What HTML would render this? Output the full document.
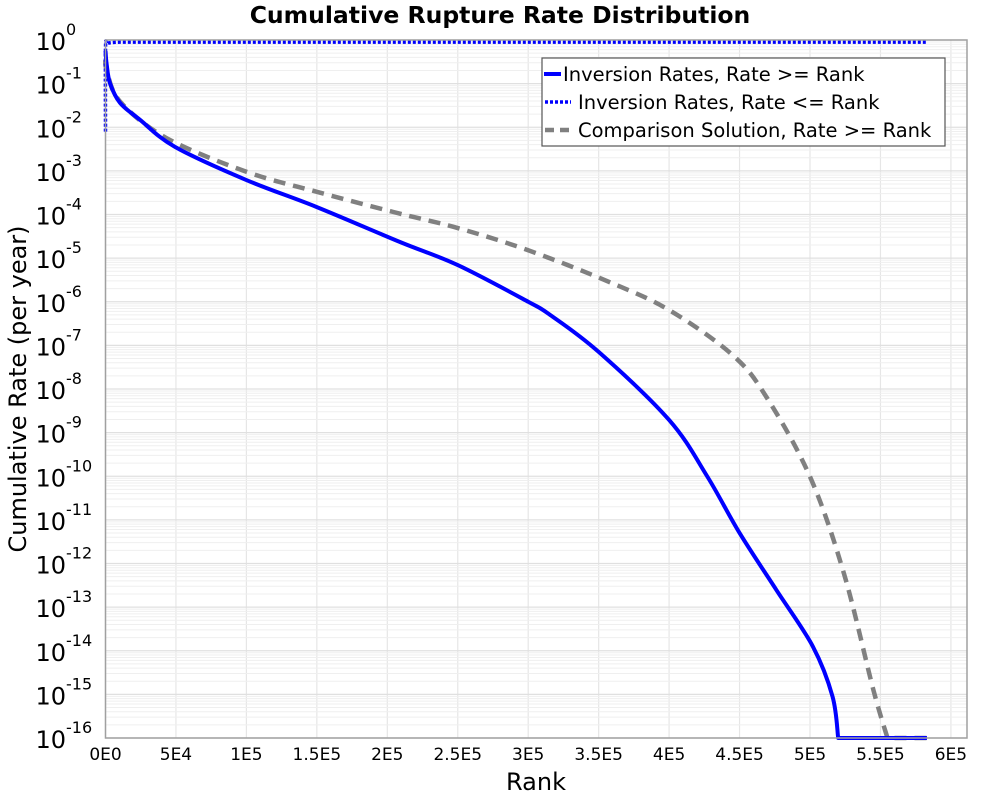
<!DOCTYPE html>
<html><head><meta charset="utf-8"><style>
body{margin:0;background:#fff;}
svg text{font-family:"DejaVu Sans","Liberation Sans",sans-serif;}
</style></head><body>
<svg id="chart" width="1000" height="800" xmlns="http://www.w3.org/2000/svg">
<text x="500" y="23" text-anchor="middle" font-size="23.5" font-weight="bold">Cumulative Rupture Rate Distribution</text>
<g id="grid"></g>
<g id="series"></g>
<rect x="105.5" y="40" width="861.5" height="698" fill="none" stroke="#a0a0a0" stroke-width="1.5"/>
<g id="xticks"></g>
<g id="yticks"></g>
<text x="536" y="790" text-anchor="middle" font-size="24">Rank</text>
<text transform="translate(26,389) rotate(-90)" text-anchor="middle" font-size="24">Cumulative Rate (per year)</text>
<g>
<rect x="542" y="58" width="403" height="88" fill="#fff" stroke="#555" stroke-width="1.2"/>
<line x1="544" y1="74" x2="561" y2="74" stroke="#0000ff" stroke-width="4"/>
<text x="563" y="81" font-size="19.5">Inversion Rates, Rate &gt;= Rank</text>
<line x1="545" y1="102" x2="571" y2="102" stroke="#0000ff" stroke-width="3.5" stroke-dasharray="3,2"/>
<text x="578" y="109" font-size="19.5">Inversion Rates, Rate &lt;= Rank</text>
<line x1="545" y1="130" x2="573" y2="130" stroke="#808080" stroke-width="4.5" stroke-dasharray="9,6"/>
<text x="578" y="137" font-size="19.5">Comparison Solution, Rate &gt;= Rank</text>
</g>
</svg>
<script>
const xTicks=[0,5e4,1e5,1.5e5,2e5,2.5e5,3e5,3.5e5,4e5,4.5e5,5e5,5.5e5,6e5];
const xTickLabels=["0E0","5E4","1E5","1.5E5","2E5","2.5E5","3E5","3.5E5","4E5","4.5E5","5E5","5.5E5","6E5"];
const yDecades=[0,-1,-2,-3,-4,-5,-6,-7,-8,-9,-10,-11,-12,-13,-14,-15,-16];
const invGeRank=[0,800,3200,1.03e4,2.45e4,4.93e4,1e5,1.5e5,2.09e5,2.5e5,3e5,3.155e5,3.5e5,4e5,4.27e5,4.5e5,4.76e5,5.02e5,5.16e5,5.2e5,5.83e5];
const invGeLog=[-0.25,-0.55,-0.99,-1.44,-1.83,-2.45,-3.21,-3.83,-4.63,-5.16,-6.0,-6.30,-7.15,-8.71,-10.0,-11.3,-12.6,-13.9,-15.05,-16,-16];
const cmpRank=[0,850,1.03e4,4.34e4,1e5,1.5e5,2.04e5,2.5e5,3e5,3.57e5,4e5,4.45e5,4.69e5,5e5,5.24e5,5.45e5,5.55e5,5.83e5];
const cmpLog=[-0.45,-0.69,-1.41,-2.25,-3.02,-3.48,-3.94,-4.31,-4.82,-5.54,-6.19,-7.22,-8.18,-10.01,-12.22,-14.9,-16,-16];
const invLeRank=[0,0,1000,4000,1e4,5.83e5];
const invLeLog=[-2.1,-0.2,-0.09,-0.06,-0.05,-0.05];
const NS="http://www.w3.org/2000/svg";
const X0=105.5,PX=140.9/1e5,Y0=40,PY=698/16;
const sx=v=>X0+v*PX, sy=l=>Y0-l*PY;
function mk(t,a,p){const e=document.createElementNS(NS,t);for(const k in a)e.setAttribute(k,a[k]);p.appendChild(e);return e;}
const grid=document.getElementById('grid'),xt=document.getElementById('xticks'),yt=document.getElementById('yticks'),ser=document.getElementById('series');
xTicks.forEach((v,i)=>{
 const g=mk('line',{x1:sx(v),x2:sx(v),y1:40,y2:738,stroke:'#e6e6e6','stroke-width':1.2},grid);
 
 
 const t=mk('text',{x:sx(v),y:760,'text-anchor':'middle','font-size':17},xt);
 t.textContent=xTickLabels[i];
 
 
});
yDecades.forEach(d=>{
 const g=mk('line',{x1:105,x2:967,y1:sy(d),y2:sy(d),stroke:'#e0e0e0','stroke-width':1.2},grid);
 
 
 if(d>-16){for(let m=2;m<10;m++){const l=mk('line',{x1:105,x2:967,y1:sy(d-1+Math.log10(m)),y2:sy(d-1+Math.log10(m)),stroke:'#efefef','stroke-width':1},grid);
 
 }}
 const t=mk('text',{x:66,y:sy(d)+10,'text-anchor':'end','font-size':24},yt);
 t.textContent='10';
 
 
 const s=mk('text',{x:66,y:sy(d)-5,'text-anchor':'start','font-size':16},yt);
 s.textContent=String(d);
 
 
});
function line(xs,ls,attrs,name,smoothN){
 const P=xs.map((v,i)=>[sx(v),sy(ls[i])]);
 let d='M'+P[0][0]+','+P[0][1];
 for(let i=0;i<P.length-1;i++){
  if(i>=smoothN){d+=' L'+P[i+1][0]+','+P[i+1][1];continue;}
  const p0=P[Math.max(0,i-1)],p1=P[i],p2=P[i+1],p3=P[Math.min(smoothN,i+2)];
  const c1=[p1[0]+(p2[0]-p0[0])/6,p1[1]+(p2[1]-p0[1])/6];
  const c2=[p2[0]-(p3[0]-p1[0])/6,p2[1]-(p3[1]-p1[1])/6];
  d+=' C'+c1[0]+','+c1[1]+' '+c2[0]+','+c2[1]+' '+p2[0]+','+p2[1];
 }
 const p=mk('path',Object.assign({d:d,fill:'none','stroke-linejoin':'round'},attrs),ser);
 
 
}
line(cmpRank,cmpLog,{stroke:'#808080','stroke-width':4.5,'stroke-dasharray':'12,8'},'comparison-line',cmpRank.length-2);
line(invGeRank,invGeLog,{stroke:'#0000ff','stroke-width':4},'inversion-ge-line',invGeRank.length-2);
line(invLeRank,invLeLog,{stroke:'#0000ff','stroke-width':3.5,'stroke-dasharray':'3,2'},'inversion-le-line',invLeRank.length-2);
</script>
</body></html>
